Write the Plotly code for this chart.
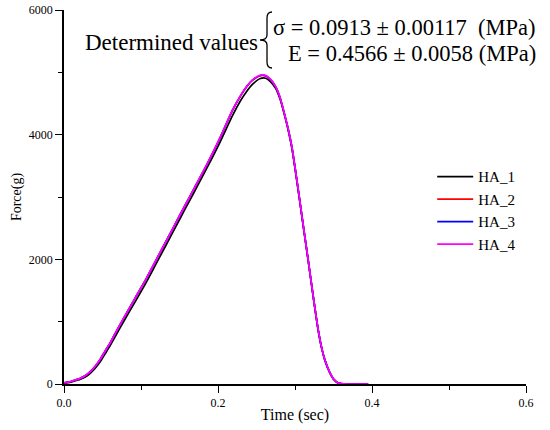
import plotly.graph_objects as go

# ---- data ----
time_s = [0, 0.005, 0.010, 0.015, 0.020, 0.027, 0.033, 0.040, 0.047, 0.053, 0.060,
          0.066, 0.079, 0.092, 0.105, 0.118, 0.130, 0.145, 0.157, 0.170, 0.185,
          0.203, 0.219, 0.230, 0.237, 0.245, 0.255, 0.262, 0.268, 0.275, 0.281,
          0.287, 0.291, 0.296, 0.300, 0.306, 0.311, 0.317, 0.324, 0.330, 0.335,
          0.339, 0.345, 0.350, 0.355, 0.360, 0.370, 0.380, 0.395]

ha_1 = [15, 22, 35, 52, 70, 110, 160, 245, 355, 475, 615, 750, 1035, 1310, 1590,
        1890, 2170, 2520, 2800, 3100, 3450, 3890, 4310, 4560, 4690, 4810, 4900,
        4905, 4850, 4740, 4555, 4285, 4080, 3780, 3460, 2950, 2510, 1990, 1370,
        870, 555, 375, 185, 75, 22, 4, 0, 0, 0]
ha_2 = [20, 30, 45, 65, 85, 128, 185, 277, 395, 520, 660, 800, 1090, 1370, 1650,
        1950, 2230, 2580, 2860, 3160, 3505, 3955, 4395, 4635, 4765, 4875, 4945,
        4942, 4882, 4762, 4575, 4295, 4095, 3795, 3475, 2955, 2515, 1995, 1375,
        875, 558, 378, 188, 78, 24, 5, 0, 0, 0]
ha_3 = [20, 30, 45, 65, 85, 128, 185, 277, 395, 520, 660, 800, 1090, 1370, 1650,
        1950, 2230, 2580, 2860, 3160, 3508, 3958, 4398, 4638, 4768, 4878, 4950,
        4946, 4886, 4766, 4578, 4298, 4098, 3798, 3478, 2958, 2518, 1998, 1378,
        878, 559, 379, 189, 79, 25, 5, 0, 0, 0]
ha_4 = [20, 30, 45, 65, 85, 128, 185, 277, 395, 520, 660, 800, 1090, 1370, 1650,
        1953, 2230, 2580, 2860, 3160, 3510, 3960, 4400, 4640, 4770, 4880, 4955,
        4950, 4890, 4770, 4580, 4300, 4100, 3800, 3480, 2960, 2520, 2000, 1380,
        880, 560, 380, 190, 80, 25, 5, 0, 0, 0]

series_names = ["HA_1", "HA_2", "HA_3", "HA_4"]
series_values = [ha_1, ha_2, ha_3, ha_4]
series_colors = ["#000000", "#ff0000", "#0000ff", "#ff00ff"]

x_ticks = [0.0, 0.2, 0.4, 0.6]
y_ticks = [0, 2000, 4000, 6000]

FONT = "Liberation Serif"
W, H = 550, 430
ML, MR, MT, MB = 64, 24, 10, 46

fig = go.Figure()
for name, vals, col in zip(series_names, series_values, series_colors):
    fig.add_trace(go.Scatter(x=time_s, y=vals, mode="lines", name=name,
                             line=dict(color=col, width=1.7, shape="spline", smoothing=0.6)))

fig.update_layout(
    width=W, height=H,
    margin=dict(l=ML, r=MR, t=MT, b=MB, autoexpand=False),
    paper_bgcolor="white", plot_bgcolor="white",
    font=dict(family=FONT, color="#000000"),
    showlegend=True,
    legend=dict(x=0.797, y=0.598, xanchor="left", yanchor="top",
                font=dict(family=FONT, size=15, color="#000000"),
                bgcolor="rgba(0,0,0,0)", tracegroupgap=0, itemwidth=36),
)

fig.update_xaxes(
    automargin=False, ticklabeloverflow="allow",
    range=[0, 0.6], tickvals=x_ticks, ticktext=[f"{v:.1f}" for v in x_ticks],
    showgrid=False, zeroline=False, showline=True, linecolor="#000000", linewidth=1.5,
    ticks="outside", ticklen=7, tickwidth=1.3, tickcolor="#000000",
    tickfont=dict(family=FONT, size=12, color="#000000"),
    minor=dict(dtick=0.1, tick0=0, ticks="outside", ticklen=4, tickwidth=1.3, tickcolor="#000000"),
    title=dict(text="Time (sec)", font=dict(family=FONT, size=16), standoff=0),
)
fig.update_yaxes(
    automargin=False, ticklabeloverflow="allow",
    range=[0, 6000], tickvals=y_ticks, ticktext=[str(v) for v in y_ticks],
    showgrid=False, zeroline=False, showline=True, linecolor="#000000", linewidth=1.5,
    ticks="outside", ticklen=7, tickwidth=1.3, tickcolor="#000000",
    tickfont=dict(family=FONT, size=12, color="#000000"),
    minor=dict(dtick=1000, tick0=0, ticks="outside", ticklen=4, tickwidth=1.3, tickcolor="#000000"),
    title=dict(text="Force(g)", font=dict(family=FONT, size=14), standoff=4),
)

fig.add_annotation(xref="paper", yref="paper", x=0.424, y=0.914, xanchor="right", yanchor="middle",
                   text="Determined values", showarrow=False,
                   font=dict(family=FONT, size=23, color="#000000"))
fig.add_annotation(xref="paper", yref="paper", x=1.025, y=0.953, xanchor="right", yanchor="middle",
                   text="σ = 0.0913 ± 0.00117\u00a0\u00a0(MPa)", showarrow=False,
                   font=dict(family=FONT, size=22.5, color="#000000"))
fig.add_annotation(xref="paper", yref="paper", x=1.025, y=0.883, xanchor="right", yanchor="middle",
                   text="E = 0.4566 ± 0.0058 (MPa)", showarrow=False,
                   font=dict(family=FONT, size=22.5, color="#000000"))

# decorative curly brace joining the two value lines (drawn as a thin stroke)
def px(xpix):
    return (xpix - ML) / (W - ML - MR)

def py(ypix):
    return (H - MB - ypix) / (H - MT - MB)

tip, stem, mid = 272, 267, 260
brace_path = (
    f"M {px(tip):.4f},{py(12):.4f} Q {px(stem):.4f},{py(12):.4f} {px(stem):.4f},{py(18):.4f} "
    f"L {px(stem):.4f},{py(35):.4f} Q {px(stem):.4f},{py(40):.4f} {px(mid):.4f},{py(40):.4f} "
    f"Q {px(stem):.4f},{py(40):.4f} {px(stem):.4f},{py(45):.4f} "
    f"L {px(stem):.4f},{py(62):.4f} Q {px(stem):.4f},{py(68):.4f} {px(tip):.4f},{py(68):.4f}"
)
fig.add_shape(type="path", xref="paper", yref="paper", path=brace_path,
              line=dict(color="#000000", width=1.3))

fig.write_html("out.html", config={"displayModeBar": False},
               post_script="document.body.style.margin='0';document.body.style.padding='0';")
